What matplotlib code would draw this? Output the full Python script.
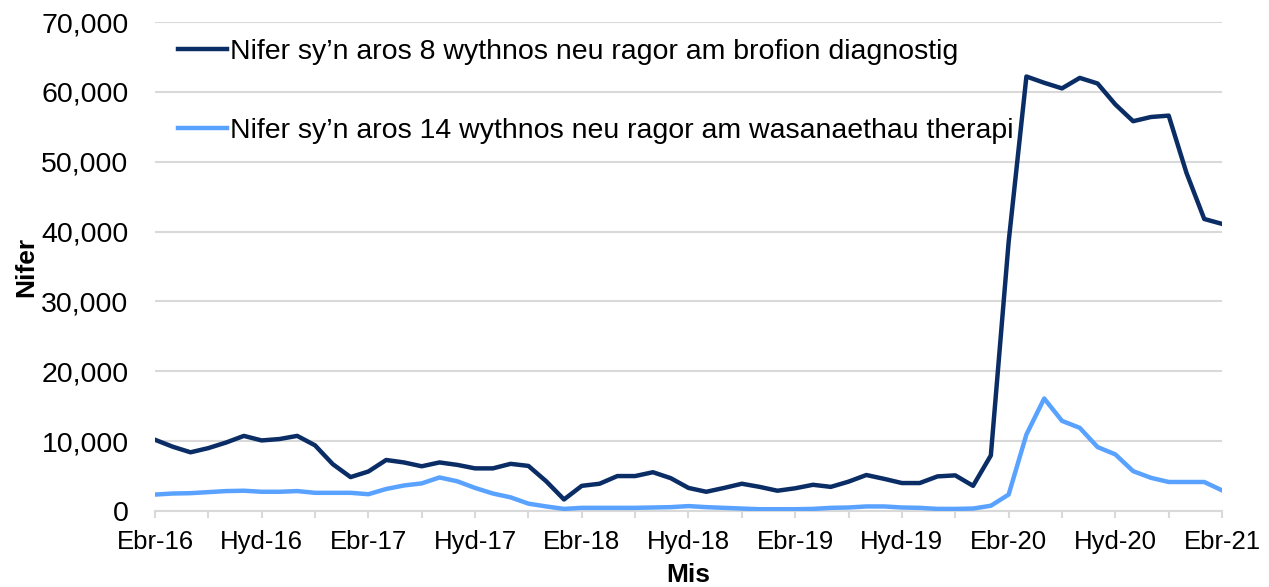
import numpy as np
import matplotlib.pyplot as plt
from matplotlib.ticker import FuncFormatter, MultipleLocator

plt.rcParams['font.family'] = ['Liberation Sans', 'DejaVu Sans']

# misoedd Ebr-16 .. Ebr-21 (61 mis)
tick_labels = ['Ebr-16', 'Hyd-16', 'Ebr-17', 'Hyd-17', 'Ebr-18', 'Hyd-18',
               'Ebr-19', 'Hyd-19', 'Ebr-20', 'Hyd-20', 'Ebr-21']

diagnostig = [10200, 9200, 8400, 9000, 9800, 10750, 10100, 10300, 10750, 9400,
              6700, 4850, 5650, 7300, 6950, 6400, 6950, 6600, 6100, 6100,
              6750, 6450, 4250, 1650, 3600, 3900, 5000, 5000, 5550, 4700,
              3300, 2750, 3300, 3900, 3450, 2900, 3250, 3750, 3450, 4200,
              5150, 4600, 4000, 4000, 4950, 5100, 3600, 7950, 38500, 62200,
              61300, 60500, 62000, 61200, 58200, 55800, 56400, 56600, 48400, 41800,
              41100]

therapi = [2350, 2500, 2550, 2700, 2850, 2900, 2750, 2750, 2850, 2600,
           2600, 2600, 2400, 3150, 3650, 3950, 4800, 4250, 3300, 2500,
           1950, 1050, 650, 300, 450, 450, 450, 450, 500, 550,
           700, 550, 450, 350, 250, 250, 250, 300, 450, 500,
           650, 650, 500, 450, 300, 300, 350, 750, 2350, 10950,
           16100, 12900, 11900, 9150, 8100, 5700, 4750, 4150, 4150, 4150,
           2950]

label_diag = 'Nifer sy\u2019n aros 8 wythnos neu ragor am brofion diagnostig'
label_ther = 'Nifer sy\u2019n aros 14 wythnos neu ragor am wasanaethau therapi'

months = np.arange(len(diagnostig))

fig = plt.figure(figsize=(12.69, 5.87), dpi=100)
ax = fig.add_axes([0.1221, 0.1295, 0.8409, 0.833])

ax.plot(months, diagnostig, color='#0b2d66', lw=3.2, label=label_diag, zorder=3)
ax.plot(months, therapi, color='#5aa2ff', lw=3.2, label=label_ther, zorder=3)

ax.set_xlim(0, 60)
ax.set_ylim(0, 70000)
ax.yaxis.set_major_locator(MultipleLocator(10000))
ax.yaxis.set_major_formatter(FuncFormatter(lambda v, p: f'{int(v):,}'))
ax.grid(axis='y', color='#d9d9d9', lw=1.5, zorder=0)

ax.set_xticks(np.arange(0, 61, 6))
ax.set_xticklabels(tick_labels)
ax.set_xticks(np.arange(0, 61, 3), minor=True)
ax.tick_params(axis='x', which='both', length=5, color='#d9d9d9', width=1.5,
               labelsize=18.5, pad=9)
ax.tick_params(axis='y', length=0, labelsize=20.5, pad=19)

for s in ['top', 'right', 'left']:
    ax.spines[s].set_visible(False)
ax.spines['bottom'].set_color('#d9d9d9')
ax.spines['bottom'].set_linewidth(1.5)

ax.set_ylabel('Nifer', fontsize=19, fontweight='bold', labelpad=2)
ax.set_xlabel('Mis', fontsize=19, fontweight='bold', labelpad=6)

ax.legend(loc='upper left', bbox_to_anchor=(-0.002, 1.018), frameon=False,
          fontsize=20.5, handlelength=1.7, handletextpad=0.1, labelspacing=1.85)

fig.savefig('out.png', dpi=100)
